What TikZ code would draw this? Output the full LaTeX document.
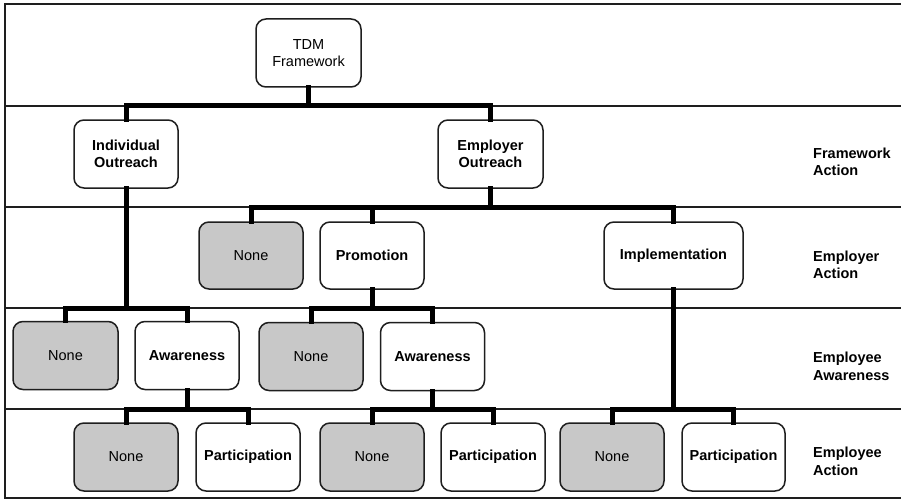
\documentclass[tikz,border=0pt]{standalone}
\usepackage{fontspec}
\setmainfont{Liberation Sans}
\definecolor{boxgray}{HTML}{C8C8C8}
\definecolor{edge}{HTML}{1E1E1E}
\begin{document}
\begin{tikzpicture}[x=1pt,y=-1pt,
  frame/.style={line width=1.8pt,draw=edge},
  conn/.style={line width=5pt,line cap=rect,line join=miter},
  box/.style={draw=edge,line width=1.5pt,rounded corners=10pt,fill=white,
    minimum width=104pt,minimum height=68pt,align=center,inner sep=2pt,
    font=\fontsize{14.5}{17.5}\selectfont\bfseries},
  nonebox/.style={box,fill=boxgray,font=\fontsize{14.5}{17.5}\selectfont},
  rowlabel/.style={anchor=west,align=left,inner sep=0pt,
    font=\fontsize{14.5}{17.5}\selectfont\bfseries}]
\useasboundingbox (0,0) rectangle (901,500);
\fill[white] (0,0) rectangle (901,500);
% frame
\draw[frame] (901,4) -- (5,4) -- (5,498) -- (901,498);
\foreach \yy in {106,207,308,409} \draw[frame] (5,\yy) -- (901,\yy);
\coordinate (b1) at (0,106);
\coordinate (b2) at (0,207);
\coordinate (b3) at (0,308);
\coordinate (b4) at (0,409);
% nodes
\node[box,font=\fontsize{14.5}{17.5}\selectfont,minimum width=105pt] (tdm) at (308.5,53) {TDM\\Framework};
\node[box] (ind) at (126,154) {Individual\\Outreach};
\node[box,minimum width=105pt] (emp) at (490.5,154) {Employer\\Outreach};
\node[nonebox,minimum height=67pt] (n3a) at (251,255.5) {None};
\node[box,minimum height=67pt] (prom) at (372,255.5) {Promotion};
\node[box,minimum height=67pt,minimum width=139pt] (impl) at (673.5,255.5) {Implementation};
\node[nonebox,minimum width=105pt] (n4a) at (65.5,355.5) {None};
\node[box] (aw1) at (187,355.5) {Awareness};
\node[nonebox] (n4b) at (311,356.5) {None};
\node[box] (aw2) at (432.5,356.5) {Awareness};
\node[nonebox] (n5a) at (126,457) {None};
\node[box] (p5a) at (248,457) {Participation};
\node[nonebox] (n5b) at (372,457) {None};
\node[box] (p5b) at (493,457) {Participation};
\node[nonebox] (n5c) at (612,457) {None};
\node[box,minimum width=103pt] (p5c) at (733.5,457) {Participation};
% row labels
\node[rowlabel] (l1) at (813,162) {Framework\\Action};
\node[rowlabel] (l2) at (813,265) {Employer\\Action};
\node[rowlabel] (l3) at (813,366.5) {Employee\\Awareness};
\node[rowlabel] (l4) at (813,461.5) {Employee\\Action};
% connectors
\draw[conn] (tdm.south) -- (tdm.south |- b1);
\draw[conn] (ind.north) |- (emp.north |- b1) -- (emp.north);
\draw[conn] (emp.south) -- (emp.south |- b2);
\draw[conn] (n3a.north) |- (impl.north |- b2) -- (impl.north);
\draw[conn] (prom.north) -- (prom.north |- b2);
\draw[conn] (ind.south) -- (ind.south |- b3);
\draw[conn] (n4a.north) |- (aw1.north |- b3) -- (aw1.north);
\draw[conn] (prom.south) -- (prom.south |- b3);
\draw[conn] (n4b.north) |- (aw2.north |- b3) -- (aw2.north);
\draw[conn] (aw1.south) -- (aw1.south |- b4);
\draw[conn] (n5a.north) |- (p5a.north |- b4) -- (p5a.north);
\draw[conn] (aw2.south) -- (aw2.south |- b4);
\draw[conn] (n5b.north) |- (p5b.north |- b4) -- (p5b.north);
\draw[conn] (impl.south) -- (impl.south |- b4);
\draw[conn] (n5c.north) |- (p5c.north |- b4) -- (p5c.north);
\end{tikzpicture}
\end{document}
